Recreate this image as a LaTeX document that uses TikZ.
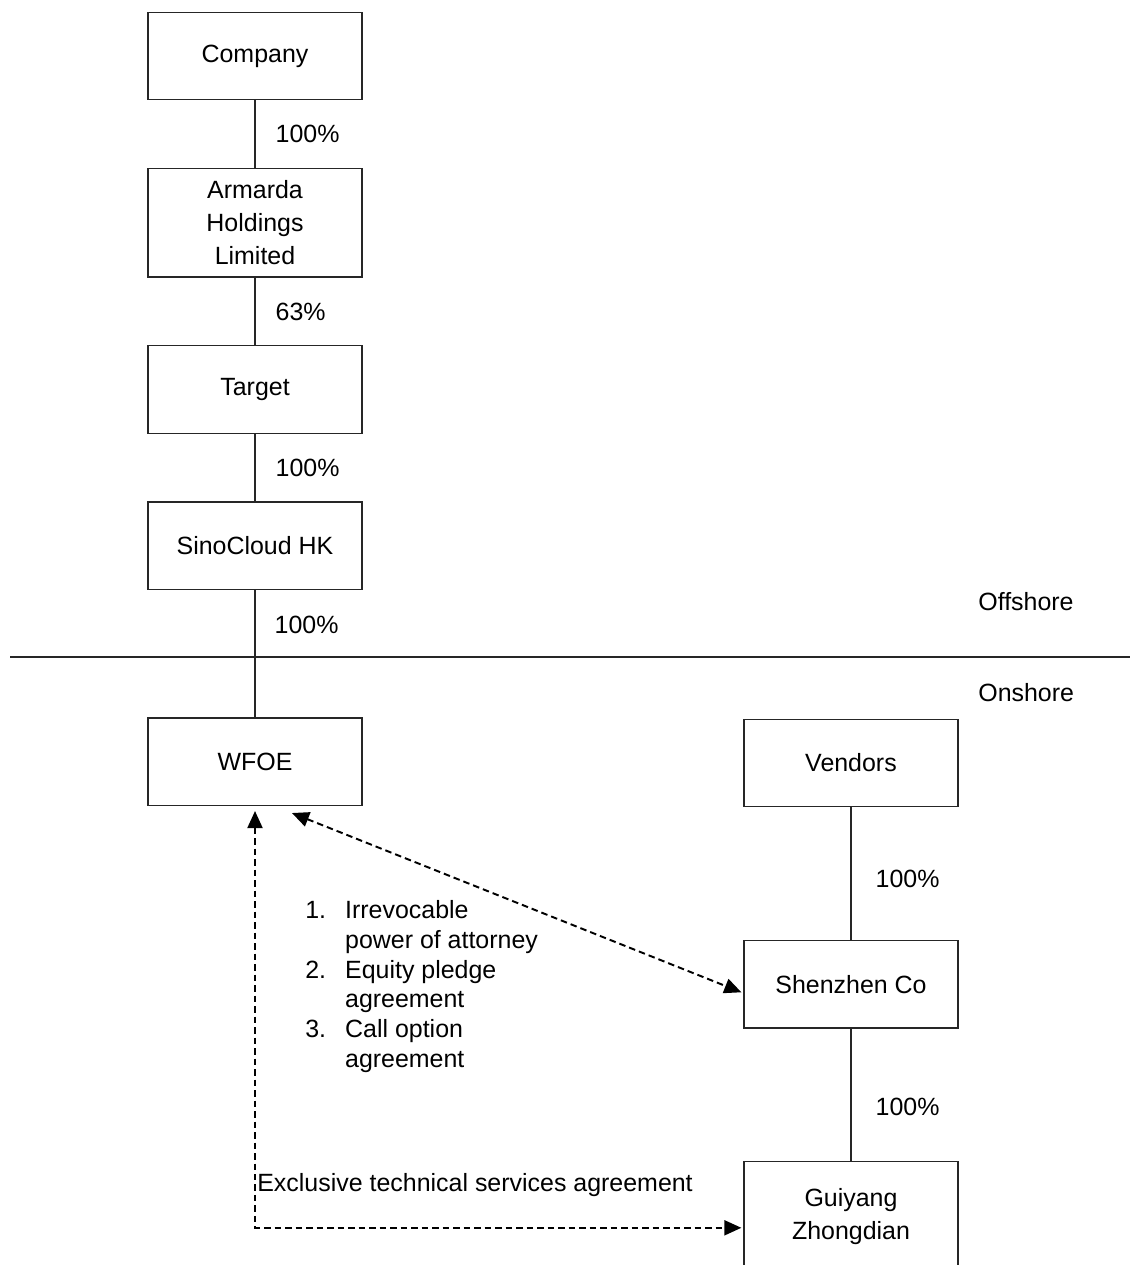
\documentclass[tikz,border=0pt]{standalone}
\usepackage{fontspec}
\setmainfont{Liberation Sans}
\usetikzlibrary{positioning,arrows.meta}

\tikzset{
  entity/.style={draw=black!85, line width=0.75pt, minimum width=4.28cm,
    minimum height=1.75cm, align=center, inner sep=0pt,
    font=\fontsize{14.2}{18.8}\selectfont},
  share/.style={font=\fontsize{14.2}{17}\selectfont, inner sep=0pt},
  owns/.style={draw=black!85, line width=0.75pt},
  contract/.style={dash pattern=on 0.13cm off 0.08cm, line width=1.1pt,
    {Triangle[length=0.34cm,width=0.3cm]}-{Triangle[length=0.34cm,width=0.3cm]}}
}

\begin{document}
\begin{tikzpicture}[x=0.02cm, y=-0.02cm, node distance=1.35cm]
\useasboundingbox (0,0) rectangle (1130,1265);

% offshore chain
\node[entity] (company) at (255,56) {Company};
\node[entity, minimum height=2.17cm, below=of company] (armarda) {Armarda\\Holdings\\Limited};
\node[entity, below=of armarda] (target) {Target};
\node[entity, below=of target] (sinocloud) {SinoCloud HK};
\node[entity, below=2.54cm of sinocloud] (wfoe) {WFOE};

% onshore operating side
\node[entity] (vendors) at (851,763) {Vendors};
\node[entity, below=2.65cm of vendors] (shenzhen) {Shenzhen Co};
\node[entity, minimum height=2.2cm, below=2.65cm of shenzhen] (guiyang) {Guiyang\\Zhongdian};

\draw[owns] (company) -- (armarda) node[share, midway, right=0.4cm] {100\%};
\draw[owns] (armarda) -- (target) node[share, midway, right=0.4cm] {63\%};
\draw[owns] (target) -- (sinocloud) node[share, midway, right=0.4cm] {100\%};
\draw[owns] (sinocloud) -- (wfoe) node[share, pos=0.27, right=0.38cm] {100\%};
\draw[owns] (vendors) -- (shenzhen) node[share, pos=0.54, right=0.48cm] {100\%};
\draw[owns] (shenzhen) -- (guiyang) node[share, pos=0.59, right=0.48cm] {100\%};

% offshore / onshore divide
\coordinate (divL) at (10,657);
\coordinate (divR) at (1130,657);
\draw[owns] (divL) -- (divR);
\node[share, anchor=west] (offshore) at (978,602) {Offshore};
\node[share, anchor=west] (onshore) at (978,693) {Onshore};

% contractual arrangements
\draw[contract] ([shift={(37,7)}]wfoe.south) -- ([shift={(-2,8)}]shenzhen.west);
\draw[contract] ([shift={(0,5)}]wfoe.south) |- ([shift={(-2,11)}]guiyang.west);

\node[share, anchor=west] (vieterms) at (305,987)
  {\begin{tabular}{@{}r@{\hspace{0.38cm}}l@{}}
   1. & Irrevocable\\
      & power of attorney\\
   2. & Equity pledge\\
      & agreement\\
   3. & Call option\\
      & agreement
   \end{tabular}};
\node[share, anchor=west] (techsvc) at (257,1185) {Exclusive technical services agreement};

\end{tikzpicture}
\end{document}
